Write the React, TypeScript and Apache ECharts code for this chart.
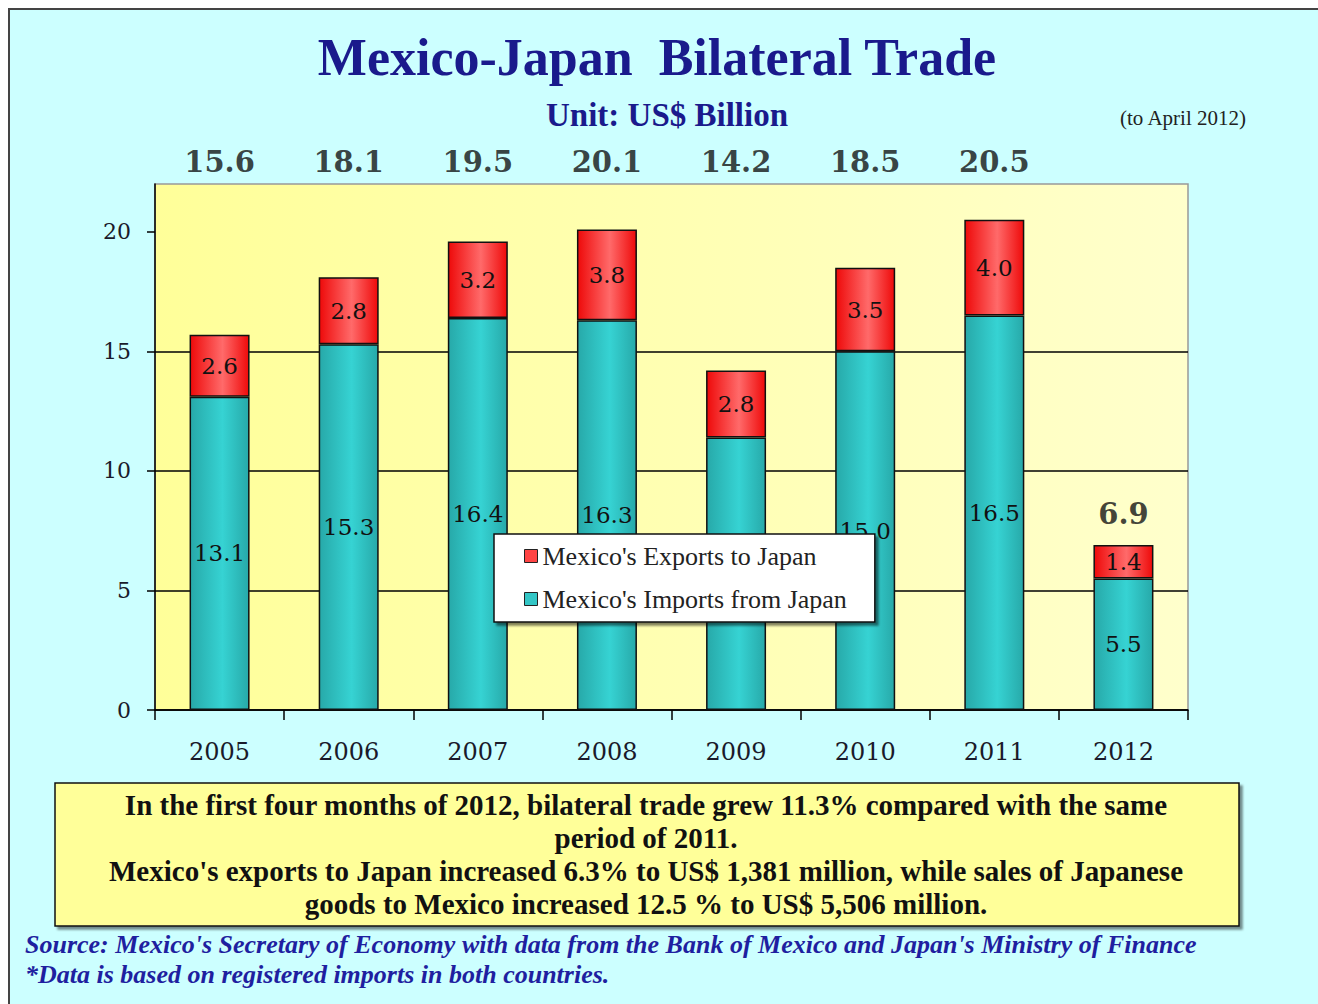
import React, { useEffect, useRef } from "react";
import * as echarts from "echarts";

const years = ["2005", "2006", "2007", "2008", "2009", "2010", "2011", "2012"];
const importsFromJapan = [13.1, 15.3, 16.4, 16.3, 11.4, 15.0, 16.5, 5.5];
const exportsToJapan = [2.6, 2.8, 3.2, 3.8, 2.8, 3.5, 4.0, 1.4];
const totals = [15.6, 18.1, 19.5, 20.1, 14.2, 18.5, 20.5, 6.9];
const partialYear = "2012";
const yTickValues = [0, 5, 10, 15, 20];
const Y_MAX = 22;

const EXPORTS_NAME = "Mexico's Exports to Japan";
const IMPORTS_NAME = "Mexico's Imports from Japan";

const titleText = "Mexico-Japan  Bilateral Trade";
const subtitleText = "Unit: US$ Billion";
const periodNote = "(to April 2012)";
const summaryLines = [
  "In the first four months of 2012, bilateral trade grew 11.3% compared with the same",
  "period of 2011.",
  "Mexico's exports to Japan increased 6.3% to US$ 1,381 million, while sales of Japanese",
  "goods to Mexico increased 12.5 % to US$ 5,506 million.",
];
const sourceLines = [
  "Source: Mexico's Secretary of Economy with data from the Bank of Mexico and Japan's Ministry of Finance",
  "*Data is based on registered imports in both countries.",
];

const NAVY = "#1a1a8c";
const SERIF = '"DejaVu Serif", serif';
const LSERIF = '"Liberation Serif", serif';

const cyl = (edge: string, mid: string) => ({
  type: "linear",
  x: 0,
  y: 0,
  x2: 1,
  y2: 0,
  colorStops: [
    { offset: 0, color: edge },
    { offset: 0.55, color: mid },
    { offset: 1, color: edge },
  ],
});

export default function App() {
  const ref = useRef<HTMLDivElement>(null);

  useEffect(() => {
    if (!ref.current) return;
    const chart = echarts.init(ref.current, null, { renderer: "svg" });

    const barLabel = {
      show: true,
      position: "inside",
      color: "#111",
      fontFamily: SERIF,
      fontSize: 23,
      formatter: (p: any) => Number(p.value).toFixed(1),
    };

    chart.setOption({
      animation: false,
      backgroundColor: "transparent",
      grid: {
        left: 155,
        right: 130,
        top: 184,
        bottom: 294,
        show: true,
        backgroundColor: {
          type: "linear",
          x: 0,
          y: 0,
          x2: 1,
          y2: 0,
          colorStops: [
            { offset: 0, color: "#ffff99" },
            { offset: 1, color: "#ffffcc" },
          ],
        },
        borderColor: "#999",
        borderWidth: 1.5,
      },
      legend: {
        orient: "vertical",
        left: 494,
        top: 534,
        padding: [9, 28, 10, 30],
        itemGap: 17,
        itemWidth: 13,
        itemHeight: 13,
        icon: "rect",
        backgroundColor: "#fff",
        borderColor: "#111",
        borderWidth: 1.5,
        shadowColor: "rgba(0,0,0,0.5)",
        shadowOffsetX: 3,
        shadowOffsetY: 3,
        shadowBlur: 2,
        itemStyle: { borderColor: "#222", borderWidth: 1 },
        textStyle: { fontFamily: LSERIF, fontSize: 26, color: "#222" },
        data: [
          { name: EXPORTS_NAME, itemStyle: { color: "#ff4444" } },
          { name: IMPORTS_NAME, itemStyle: { color: "#33c6c6" } },
        ],
        selectedMode: false,
      },
      xAxis: {
        type: "category",
        data: years,
        axisLine: { lineStyle: { color: "#000", width: 1.5 } },
        axisTick: {
          show: true,
          length: 10,
          alignWithLabel: false,
          lineStyle: { color: "#000", width: 1.5 },
        },
        axisLabel: {
          margin: 30,
          fontFamily: SERIF,
          fontSize: 24,
          color: "#1a1a2a",
        },
      },
      yAxis: {
        type: "value",
        min: 0,
        max: Y_MAX,
        interval: 5,
        axisLine: { show: true, lineStyle: { color: "#000", width: 1.5 } },
        axisTick: {
          show: true,
          length: 8,
          customValues: yTickValues,
          lineStyle: { color: "#000", width: 1.5 },
        },
        axisLabel: {
          margin: 24,
          fontFamily: SERIF,
          fontSize: 22,
          color: "#1a1a2a",
          customValues: yTickValues,
        },
        splitLine: {
          show: true,
          showMaxLine: false,
          lineStyle: { color: "#000", width: 1.5 },
        },
      },
      series: [
        {
          name: IMPORTS_NAME,
          type: "bar",
          stack: "trade",
          barWidth: 60,
          data: importsFromJapan,
          itemStyle: {
            color: cyl("#27a9a9", "#36d3d3"),
            borderColor: "#111",
            borderWidth: 1.5,
          },
          label: barLabel,
        },
        {
          name: EXPORTS_NAME,
          type: "bar",
          stack: "trade",
          barWidth: 60,
          data: exportsToJapan,
          itemStyle: {
            color: cyl("#ee0a0a", "#ff6a6a"),
            borderColor: "#111",
            borderWidth: 1.5,
          },
          label: barLabel,
        },
        {
          name: "totals",
          type: "scatter",
          symbolSize: 0,
          silent: true,
          clip: false,
          data: totals.map((t, i) => {
            const partial = years[i] === partialYear;
            return {
              value: partial ? t : Y_MAX,
              label: { distance: partial ? 17 : 8 },
            };
          }),
          label: {
            show: true,
            position: "top",
            fontFamily: SERIF,
            fontWeight: "bold",
            fontSize: 29,
            color: "#111",
            formatter: (p: any) => totals[p.dataIndex].toFixed(1),
          },
        },
      ],
      graphic: [
        {
          type: "text",
          x: 657,
          y: 57,
          style: {
            text: titleText,
            fill: NAVY,
            font: `bold 52px ${LSERIF}`,
            textAlign: "center",
            textVerticalAlign: "middle",
          },
        },
        {
          type: "text",
          x: 667,
          y: 115,
          style: {
            text: subtitleText,
            fill: NAVY,
            font: `bold 33px ${LSERIF}`,
            textAlign: "center",
            textVerticalAlign: "middle",
          },
        },
        {
          type: "text",
          x: 1120,
          y: 118,
          style: {
            text: periodNote,
            fill: "#222",
            font: `21px ${LSERIF}`,
            textAlign: "left",
            textVerticalAlign: "middle",
          },
        },
        {
          type: "rect",
          shape: { x: 55, y: 783, width: 1184, height: 143 },
          style: {
            fill: "#ffff99",
            stroke: "#111",
            lineWidth: 1.5,
            shadowColor: "rgba(0,0,0,0.45)",
            shadowOffsetX: 3,
            shadowOffsetY: 3,
            shadowBlur: 2,
          },
        },
        {
          type: "text",
          x: 646,
          y: 788,
          style: {
            text: summaryLines.join("\n"),
            fill: "#111",
            font: `bold 29px ${LSERIF}`,
            lineHeight: 33,
            textAlign: "center",
            textVerticalAlign: "top",
          },
        },
        {
          type: "text",
          x: 25,
          y: 944,
          style: {
            text: sourceLines[0],
            fill: "#1f1fa0",
            font: `italic bold 26px ${LSERIF}`,
            textAlign: "left",
            textVerticalAlign: "middle",
          },
        },
        {
          type: "text",
          x: 25,
          y: 974,
          style: {
            text: sourceLines[1],
            fill: "#1f1fa0",
            font: `italic bold 26px ${LSERIF}`,
            textAlign: "left",
            textVerticalAlign: "middle",
          },
        },
      ],
    });

    return () => chart.dispose();
  }, []);

  return (
    <div
      style={{
        position: "absolute",
        left: 0,
        top: 0,
        width: 1318,
        height: 1004,
        background: "#fff",
        overflow: "hidden",
      }}
    >
      <div
        style={{
          position: "absolute",
          left: 8,
          top: 8,
          width: 1320,
          height: 1010,
          background: "#ccffff",
          borderTop: "2px solid #444",
          borderLeft: "2px solid #444",
        }}
      />
      <div
        ref={ref}
        style={{ position: "absolute", left: 0, top: 0, width: 1318, height: 1004 }}
      />
    </div>
  );
}
